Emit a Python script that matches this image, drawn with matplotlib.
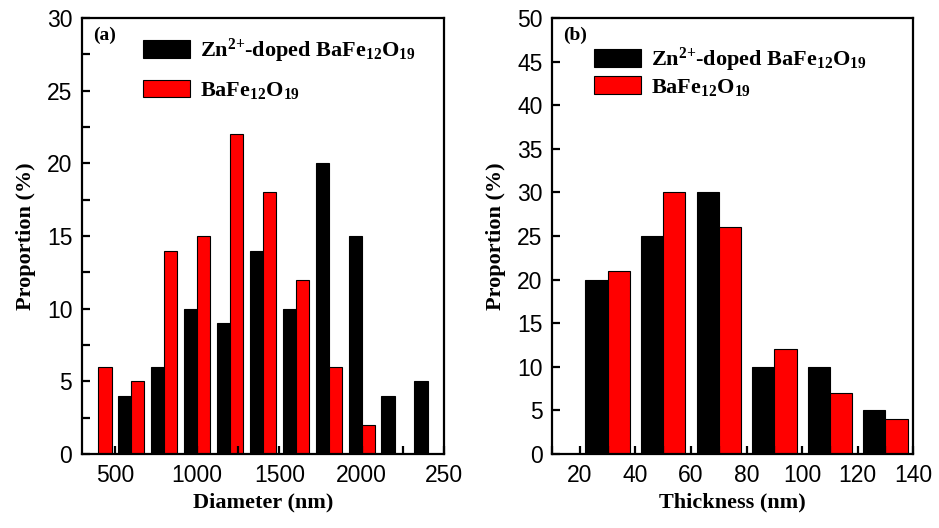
import numpy as np
import matplotlib
matplotlib.use('Agg')
import matplotlib.pyplot as plt
from matplotlib.ticker import MultipleLocator

plt.rcParams['mathtext.fontset'] = 'custom'
plt.rcParams['mathtext.rm'] = 'Liberation Serif:bold'
plt.rcParams['mathtext.default'] = 'regular'

# (a) diameter distribution, bin edge positions (nm)
diam = [400, 600, 800, 1000, 1200, 1400, 1600, 1800, 2000, 2200, 2400]
diam_zn = [0, 4, 6, 10, 9, 14, 10, 20, 15, 4, 5]
diam_ba = [6, 5, 14, 15, 22, 18, 12, 6, 2, 0, 0]

# (b) thickness distribution
thick = [30, 50, 70, 90, 110, 130]
thick_zn = [20, 25, 30, 10, 10, 5]
thick_ba = [21, 30, 26, 12, 7, 4]

lab_zn = r'Zn$^{\mathregular{2{+}}}$-doped BaFe$_{\mathregular{12}}$O$_{\mathregular{19}}$'
lab_ba = r'BaFe$_{\mathregular{12}}$O$_{\mathregular{19}}$'

serif = 'Liberation Serif'
sans = 'Liberation Sans'

fig = plt.figure(figsize=(9.39, 5.28), dpi=100)
ax1 = fig.add_axes([0.0873, 0.140, 0.3855, 0.826])
ax2 = fig.add_axes([0.588, 0.140, 0.3845, 0.826])


def style(ax):
    for s in ax.spines.values():
        s.set_linewidth(1.6)
    ax.tick_params(which='both', direction='in', width=1.6, labelsize=16.5, pad=7)
    ax.tick_params(which='major', length=6)
    ax.tick_params(which='minor', length=6)
    for t in ax.get_xticklabels() + ax.get_yticklabels():
        t.set_fontfamily(sans)


d = np.array(diam)
zn = np.array(diam_zn)
ba = np.array(diam_ba)
m = zn > 0
ax1.bar(d[m] - 40, zn[m], width=80, color='black', edgecolor='black', linewidth=0.8, label=lab_zn)
m = ba > 0
ax1.bar(d[m] + 40, ba[m], width=80, color='#ff0000', edgecolor='black', linewidth=0.8, label=lab_ba)
ax1.set_xlim(300, 2500)
ax1.set_ylim(0, 30)
ax1.set_xticks([500, 1000, 1500, 2000, 2500])
ax1.set_xticklabels(['500', '1000', '1500', '2000', '250'])
ax1.xaxis.set_minor_locator(MultipleLocator(250))
ax1.yaxis.set_major_locator(MultipleLocator(5))
ax1.yaxis.set_minor_locator(MultipleLocator(2.5))
ax1.set_xlabel('Diameter (nm)', family=serif, weight='bold', fontsize=16)
ax1.set_ylabel('Proportion (%)', family=serif, weight='bold', fontsize=16, labelpad=8)
ax1.text(0.03, 0.98, '(a)', transform=ax1.transAxes, family=serif, weight='bold',
         fontsize=14, va='top')
ax1.legend(loc='upper left', bbox_to_anchor=(0.113, 1.003), frameon=False,
           prop={'family': serif, 'weight': 'bold', 'size': 16},
           handlelength=2.1, handleheight=0.85, handletextpad=0.45, labelspacing=0.67)
style(ax1)

t = np.array(thick)
ax2.bar(t - 4, thick_zn, width=8, color='black', edgecolor='black', linewidth=0.8, label=lab_zn)
ax2.bar(t + 4, thick_ba, width=8, color='#ff0000', edgecolor='black', linewidth=0.8, label=lab_ba)
ax2.set_xlim(10, 140)
ax2.set_ylim(0, 50)
ax2.xaxis.set_major_locator(MultipleLocator(20))
ax2.xaxis.set_minor_locator(MultipleLocator(10))
ax2.yaxis.set_major_locator(MultipleLocator(5))
ax2.set_xlabel('Thickness (nm)', family=serif, weight='bold', fontsize=16)
ax2.set_ylabel('Proportion (%)', family=serif, weight='bold', fontsize=16, labelpad=8)
ax2.text(0.03, 0.98, '(b)', transform=ax2.transAxes, family=serif, weight='bold',
         fontsize=14, va='top')
ax2.legend(loc='upper left', bbox_to_anchor=(0.061, 0.982), frameon=False,
           prop={'family': serif, 'weight': 'bold', 'size': 16},
           handlelength=2.1, handleheight=0.85, handletextpad=0.45, labelspacing=0.1)
style(ax2)

fig.savefig('out.png', dpi=100)
